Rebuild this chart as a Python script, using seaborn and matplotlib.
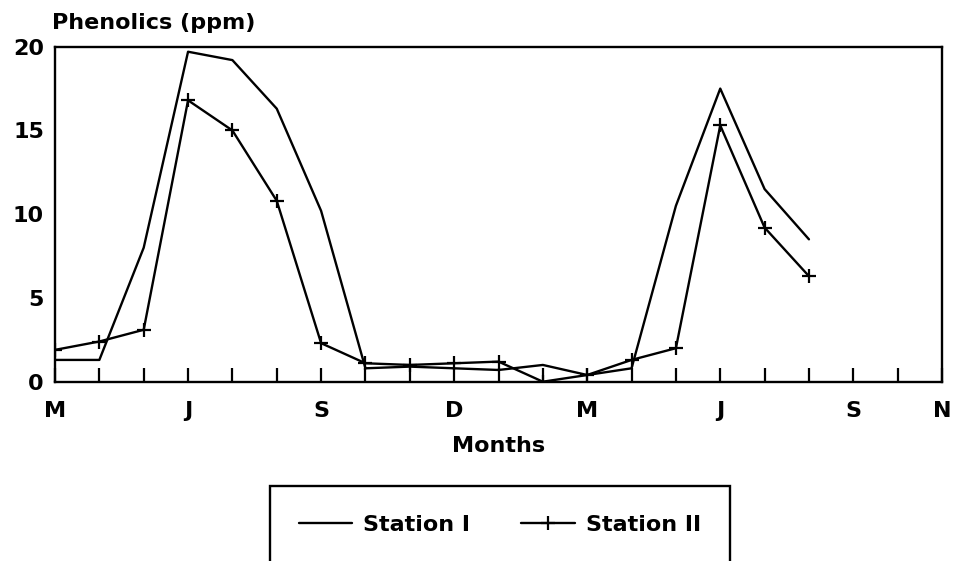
import matplotlib
matplotlib.use("Agg")
import matplotlib.pyplot as plt
import seaborn as sns
import pandas as pd

# ---- data ----
months = list(range(18))  # month index starting at March
station_1 = [1.3, 1.3, 8.0, 19.7, 19.2, 16.3, 10.2, 0.8, 0.9, 0.8, 0.7, 1.0, 0.4, 0.8, 10.5, 17.5, 11.5, 8.5]
station_2 = [1.9, 2.4, 3.1, 16.8, 15.0, 10.8, 2.3, 1.1, 1.0, 1.1, 1.2, 0.0, 0.4, 1.3, 2.0, 15.3, 9.2, 6.3]
tick_positions = [0, 3, 6, 9, 12, 15, 18, 20]
tick_labels = ["M", "J", "S", "D", "M", "J", "S", "N"]
y_ticks = [0, 5, 10, 15, 20]
series_names = ["Station I", "Station II"]

sns.set_style("white")
plt.rcParams["font.family"] = ["DejaVu Sans"]
plt.rcParams["font.weight"] = "bold"
plt.rcParams["text.color"] = "black"
plt.rcParams["axes.labelcolor"] = "black"
plt.rcParams["xtick.color"] = "black"
plt.rcParams["ytick.color"] = "black"

FS = 16

fig = plt.figure(figsize=(9.57, 5.61), dpi=100)
ax = fig.add_axes([55 / 957, 1 - 381.7 / 561, (942 - 55) / 957, (381.7 - 46.7) / 561])

df1 = pd.DataFrame({"month": months, "value": station_1})
df2 = pd.DataFrame({"month": months, "value": station_2})
sns.lineplot(data=df1, x="month", y="value", color="black", linewidth=1.7,
             label=series_names[0], ax=ax)
sns.lineplot(data=df2, x="month", y="value", color="black", linewidth=1.7,
             marker="+", markersize=10, markeredgewidth=1.6, markeredgecolor="black",
             label=series_names[1], ax=ax)

ax.set_xlim(0, 20)
ax.set_ylim(0, 20)
ax.set_xticks(tick_positions)
ax.set_xticklabels(tick_labels)
ax.set_xticks(range(21), minor=True)
ax.set_yticks(y_ticks)
ax.set_yticklabels([str(v) for v in y_ticks])
ax.tick_params(axis="x", which="both", bottom=True, top=False, direction="in",
               length=10, width=1.6, color="black", pad=14, labelsize=FS,
               labelcolor="black")
ax.tick_params(axis="y", which="both", left=False, length=0, pad=8, labelsize=FS,
               labelcolor="black")
for s in ax.spines.values():
    s.set_visible(True)
    s.set_color("black")
    s.set_linewidth(1.7)

ax.set_xlabel("Months", fontsize=FS, fontweight="bold", labelpad=11, color="black")
ax.set_ylabel("Phenolics (ppm)", fontsize=FS, fontweight="bold", rotation=0,
              ha="left", va="center", color="black")
ax.yaxis.set_label_coords(-0.003, 1.072)

ax.get_legend().remove()
handles, labels = ax.get_legend_handles_labels()
leg = fig.legend(handles, labels, loc="upper left",
                 bbox_to_anchor=(270 / 957, 1 - 486 / 561), ncol=2,
                 frameon=True, fancybox=False,
                 borderpad=1.3, handlelength=2.4, handletextpad=0.5,
                 columnspacing=2.3, fontsize=FS, borderaxespad=0)
frame = leg.get_frame()
frame.set_linewidth(1.7)
frame.set_edgecolor("black")
frame.set_facecolor("white")
frame.set_alpha(1)
for t in leg.get_texts():
    t.set_color("black")

fig.savefig("out.png", dpi=100)
